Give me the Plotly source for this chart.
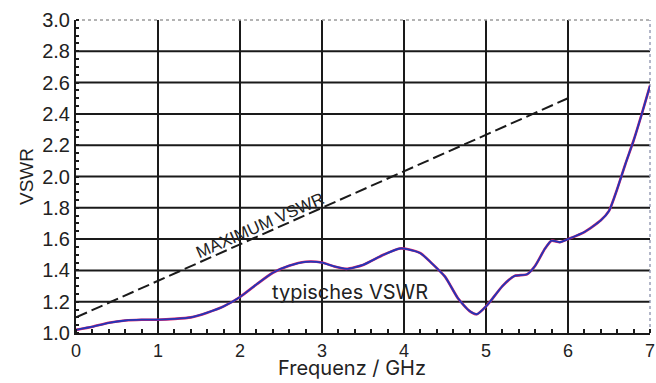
import plotly.graph_objects as go

# Typical VSWR measured across the band
freq_ghz = [0.0, 0.2, 0.4, 0.6, 0.8, 1.0, 1.2, 1.4, 1.6, 1.8, 2.0, 2.2, 2.4, 2.6,
            2.8, 3.0, 3.15, 3.3, 3.5, 3.75, 3.95, 4.05, 4.2, 4.33, 4.5, 4.66,
            4.8, 4.89, 5.0, 5.05, 5.2, 5.35, 5.5, 5.6, 5.72, 5.8, 5.9, 6.0,
            6.2, 6.4, 6.5, 6.6, 6.7, 6.8, 6.9, 7.0]
vswr_typ = [1.02, 1.04, 1.065, 1.08, 1.085, 1.085, 1.09, 1.10, 1.13, 1.17, 1.23,
            1.31, 1.385, 1.43, 1.455, 1.45, 1.425, 1.41, 1.435, 1.50, 1.54,
            1.535, 1.51, 1.45, 1.36, 1.22, 1.14, 1.12, 1.17, 1.20, 1.30, 1.365,
            1.375, 1.43, 1.54, 1.59, 1.58, 1.60, 1.645, 1.72, 1.78, 1.92, 2.08,
            2.23, 2.40, 2.58]

# Specified maximum VSWR limit
max_freq = [0.0, 6.0]
max_vswr = [1.1, 2.5]

x_ticks = [0, 1, 2, 3, 4, 5, 6, 7]
y_ticks = [1.0, 1.2, 1.4, 1.6, 1.8, 2.0, 2.2, 2.4, 2.6, 2.8, 3.0]
# interior grid lines (the outer frame is drawn separately)
x_grid = [1, 2, 3, 4, 5, 6]
y_grid = [1.2, 1.4, 1.6, 1.8, 2.0, 2.2, 2.4, 2.6, 2.8]

INK = "#1a1a1a"

fig = go.Figure()

fig.add_trace(go.Scatter(
    x=max_freq, y=max_vswr, mode="lines",
    line=dict(color=INK, width=2, dash="12px,5px"),
    hoverinfo="skip", showlegend=False))

# reddish fringe under the blue trace
fig.add_trace(go.Scatter(
    x=freq_ghz, y=vswr_typ, mode="lines",
    line=dict(color="#d8206a", width=2.6, shape="spline", smoothing=0.6),
    hoverinfo="skip", showlegend=False))
fig.add_trace(go.Scatter(
    x=freq_ghz, y=vswr_typ, mode="lines",
    line=dict(color="#2236b8", width=1.8, shape="spline", smoothing=0.6),
    showlegend=False))

shapes = []
for gx in x_grid:
    shapes.append(dict(type="line", xref="x", yref="y domain", x0=gx, x1=gx,
                       y0=0, y1=1, layer="below", line=dict(color=INK, width=2)))
for gy in y_grid:
    shapes.append(dict(type="line", xref="x domain", yref="y", x0=0, x1=1,
                       y0=gy, y1=gy, layer="below", line=dict(color=INK, width=2)))
# light dotted top and right frame
shapes.append(dict(type="line", xref="x domain", yref="y domain", x0=0, x1=1,
                   y0=1, y1=1, layer="below",
                   line=dict(color="#9a9a9a", width=1.5, dash="dot")))
shapes.append(dict(type="line", xref="x domain", yref="y domain", x0=1, x1=1,
                   y0=0, y1=1, layer="below",
                   line=dict(color="#9aa0b8", width=1.5, dash="dot")))

y_tick_font = dict(family="Liberation Sans, Arial, sans-serif", size=20, color="#222")
x_tick_font = dict(family="Liberation Sans, Arial, sans-serif", size=18, color="#222")

fig.update_layout(
    width=656, height=383,
    margin=dict(l=76, r=6, t=20, b=50),
    paper_bgcolor="white", plot_bgcolor="white",
    shapes=shapes,
    xaxis=dict(
        range=[0, 7], tickmode="array", tickvals=x_ticks,
        ticktext=[str(v) for v in x_ticks],
        showgrid=False, automargin=False,
        showline=True, linecolor=INK, linewidth=2,
        ticks="", tickfont=x_tick_font, zeroline=False,
        minor=dict(dtick=0.2, tick0=0, ticks="inside", ticklen=4,
                   tickcolor=INK, tickwidth=1.5, showgrid=False),
    ),
    yaxis=dict(
        range=[1.0, 3.0], tickmode="array", tickvals=y_ticks,
        ticktext=[f"{v:.1f}" for v in y_ticks],
        showgrid=False, automargin=False,
        showline=True, linecolor=INK, linewidth=2,
        ticks="", tickfont=y_tick_font, zeroline=False,
        minor=dict(dtick=0.05, tick0=1.0, ticks="inside", ticklen=3,
                   tickcolor=INK, tickwidth=1.5, showgrid=False),
        title=dict(text="VSWR",
                   font=dict(family="Liberation Sans, Arial, sans-serif", size=19, color="#222"),
                   standoff=4),
    ),
    annotations=[
        # x-axis title
        dict(x=0.481, y=-0.112, xref="paper", yref="paper",
             text="Frequenz / GHz", showarrow=False,
             xanchor="center", yanchor="middle",
             font=dict(family="Inter", size=20, color="#222")),
        dict(x=2.2, y=1.1 + 2.2 * (2.5 - 1.1) / 6.0, xref="x", yref="y",
             text="MAXIMUM VSWR", showarrow=False, textangle=-23.8,
             yshift=12, xshift=4,
             font=dict(family="Liberation Sans, Arial, sans-serif", size=17, color="#222")),
        dict(x=3.34, y=1.262, xref="x", yref="y", text="typisches VSWR",
             showarrow=False,
             font=dict(family="Inter", size=20, color="#222")),
    ],
)

fig.write_html("out.html")
